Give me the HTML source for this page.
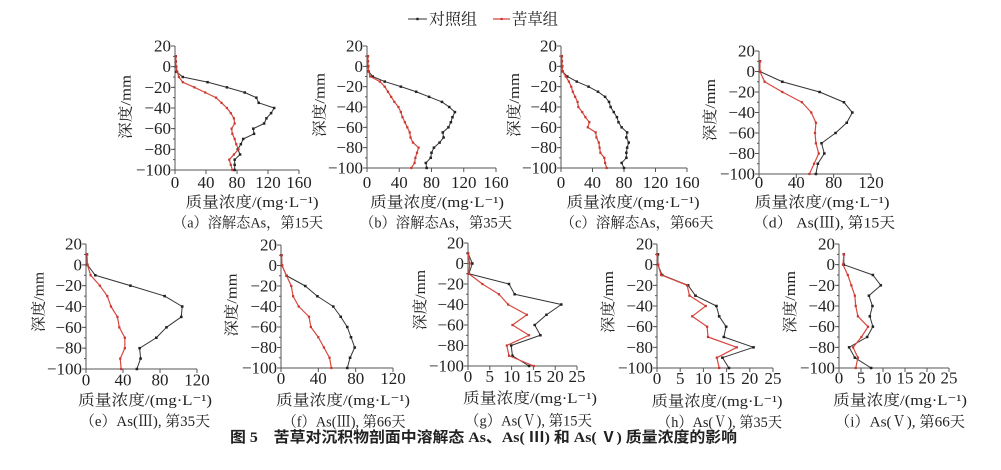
<!DOCTYPE html>
<html>
<head>
<meta charset="utf-8">
<style>
html,body{margin:0;padding:0;background:#fff;}
svg{display:block;}
svg text{font-family:"Liberation Serif","Noto Serif CJK SC",serif;fill:#222;}
.n{font-size:17px;}
.yl text{text-anchor:end;}
.xl text{text-anchor:middle;}
.lab{font-size:15px;text-anchor:middle;}
.ax{fill:none;stroke:#555;stroke-width:1;}
.tk{stroke:#555;}
.k{fill:none;stroke:#333;stroke-width:1;vector-effect:non-scaling-stroke;stroke-linejoin:round;}
.r{fill:none;stroke:#d8473e;stroke-width:1.2;vector-effect:non-scaling-stroke;stroke-linejoin:round;}
.kA{marker-start:url(#kA);marker-mid:url(#kA);marker-end:url(#kA);}
.rA{marker-start:url(#rA);marker-mid:url(#rA);marker-end:url(#rA);}
.kB{marker-start:url(#kB);marker-mid:url(#kB);marker-end:url(#kB);}
.rB{marker-start:url(#rB);marker-mid:url(#rB);marker-end:url(#rB);}
.kC{marker-start:url(#kC);marker-mid:url(#kC);marker-end:url(#kC);}
.rC{marker-start:url(#rC);marker-mid:url(#rC);marker-end:url(#rC);}
.cap{font-family:"Liberation Serif","Noto Sans CJK SC",sans-serif !important;font-weight:bold;font-size:15px;}
</style>
</head>
<body>
<svg width="1001" height="470" viewBox="0 0 1001 470" xmlns="http://www.w3.org/2000/svg">
<defs>
<marker id="kA" markerUnits="userSpaceOnUse" markerWidth="10" markerHeight="10" refX="0" refY="0" overflow="visible"><rect x="-1.6" y="-1.2" width="3.2" height="2.4" fill="#222"/></marker>
<marker id="rA" markerUnits="userSpaceOnUse" markerWidth="10" markerHeight="10" refX="0" refY="0" overflow="visible"><rect x="-1.4" y="-1.1" width="2.8" height="2.2" fill="#c8382f"/></marker>
<marker id="kB" markerUnits="userSpaceOnUse" markerWidth="10" markerHeight="10" refX="0" refY="0" overflow="visible"><rect x="-1.4" y="-1.2" width="2.8" height="2.4" fill="#222"/></marker>
<marker id="rB" markerUnits="userSpaceOnUse" markerWidth="10" markerHeight="10" refX="0" refY="0" overflow="visible"><rect x="-1.2" y="-1.1" width="2.4" height="2.2" fill="#c8382f"/></marker>
<marker id="kC" markerUnits="userSpaceOnUse" markerWidth="10" markerHeight="10" refX="0" refY="0" overflow="visible"><rect x="-0.29" y="-1.2" width="0.58" height="2.4" fill="#222"/></marker>
<marker id="rC" markerUnits="userSpaceOnUse" markerWidth="10" markerHeight="10" refX="0" refY="0" overflow="visible"><rect x="-0.25" y="-1.1" width="0.5" height="2.2" fill="#c8382f"/></marker>
</defs>

<!-- Legend -->
<line x1="408" y1="19" x2="427" y2="19" stroke="#333" stroke-width="1"/>
<rect x="416.3" y="17.8" width="2.4" height="2.4" fill="#222"/>
<text x="429" y="24.5" font-size="16" textLength="48" lengthAdjust="spacingAndGlyphs">对照组</text>
<line x1="493" y1="19" x2="510" y2="19" stroke="#d8473e" stroke-width="1.2"/>
<rect x="500.5" y="17.9" width="2.2" height="2.2" fill="#c8382f"/>
<text x="512" y="24.5" font-size="16" textLength="46" lengthAdjust="spacingAndGlyphs">苦草组</text>

<!-- (a) -->
<g transform="translate(175,46)">
<path class="ax" d="M0 0V124H124"/>
<line class="tk" x1="-2" y1="-0.5" x2="-2" y2="124.5" stroke-width="4" stroke-dasharray="1 19.667"/>
<line class="tk" x1="-1" y1="-0.5" x2="-1" y2="124.5" stroke-width="2" stroke-dasharray="1 9.333"/>
<line class="tk" x1="-0.5" y1="126" x2="124.5" y2="126" stroke-width="4" stroke-dasharray="1 30"/>
<g class="n yl"><text x="-4" y="5.5">20</text><text x="-4" y="26.2">0</text><text x="-4" y="46.8">−20</text><text x="-4" y="67.5">−40</text><text x="-4" y="88.2">−60</text><text x="-4" y="108.8">−80</text><text x="-4" y="129.5">−100</text></g>
<g class="n xl"><text x="0" y="142">0</text><text x="31" y="142">40</text><text x="62" y="142">80</text><text x="93" y="142">120</text><text x="124" y="142">160</text></g>
<text class="lab" transform="translate(-44.5,61) rotate(-90)" textLength="64" lengthAdjust="spacingAndGlyphs">深度/mm</text>
<text class="lab" x="77" y="161" textLength="133" lengthAdjust="spacingAndGlyphs">质量浓度/(mg·L⁻¹)</text>
<text class="lab" x="73" y="181.5" textLength="150" lengthAdjust="spacingAndGlyphs">（a）溶解态As，第15天</text>
<g transform="translate(0,20.67) scale(.775,-1.0333)">
<polyline class="k kA" points="1,10 1,5 1.5,0 2,-5 10,-10 42,-15 67,-20 90,-25 105,-30 108,-35 128,-40 124,-45 118,-50 115,-55 101,-60 102,-65 88,-70 85,-75 81,-80 84,-85 77,-90 77,-95 77,-100"/>
<polyline class="r rA" points="1,10 1,5 1.5,0 3,-5 5,-10 10,-15 25,-20 39,-25 53,-30 60,-35 67,-40 72,-45 76,-50 77,-55 73,-60 74,-65 77,-70 79,-75 82,-80 76,-85 70,-90 72,-95 74,-100"/>
</g>
</g>

<!-- (b) -->
<g transform="translate(367,46)">
<path class="ax" d="M0 0V122H129"/>
<line class="tk" x1="-2" y1="-0.5" x2="-2" y2="122.5" stroke-width="4" stroke-dasharray="1 19.333"/>
<line class="tk" x1="-1" y1="-0.5" x2="-1" y2="122.5" stroke-width="2" stroke-dasharray="1 9.167"/>
<line class="tk" x1="-0.5" y1="124" x2="129.5" y2="124" stroke-width="4" stroke-dasharray="1 31.25"/>
<g class="n yl"><text x="-4" y="5.5">20</text><text x="-4" y="25.8">0</text><text x="-4" y="46.2">−20</text><text x="-4" y="66.5">−40</text><text x="-4" y="86.8">−60</text><text x="-4" y="107.2">−80</text><text x="-4" y="127.5">−100</text></g>
<g class="n xl"><text x="0" y="142">0</text><text x="32.25" y="142">40</text><text x="64.5" y="142">80</text><text x="96.75" y="142">120</text><text x="129" y="142">160</text></g>
<text class="lab" transform="translate(-42.3,59) rotate(-90)" textLength="64" lengthAdjust="spacingAndGlyphs">深度/mm</text>
<text class="lab" x="70" y="161" textLength="134" lengthAdjust="spacingAndGlyphs">质量浓度/(mg·L⁻¹)</text>
<text class="lab" x="69" y="181.5" textLength="152" lengthAdjust="spacingAndGlyphs">（b）溶解态As，第35天</text>
<g transform="translate(0,20.33) scale(.80625,-1.01667)">
<polyline class="k kA" points="1,10 1,5 1.5,0 2,-5 7,-10 22,-15 42,-20 61,-25 77,-30 93,-35 102,-40 109,-45 106,-50 104,-55 101,-60 94,-65 95,-70 90,-75 83,-80 80,-85 79,-90 73,-95 74,-100"/>
<polyline class="r rA" points="1,10 1,5 1.5,0 2,-5 4,-10 16,-15 22,-20 26,-25 30,-30 34,-35 39,-40 42,-45 44,-50 47,-55 50,-60 53,-65 54,-70 57,-75 64,-80 62,-85 60,-90 59,-95 55,-100"/>
</g>
</g>

<!-- (c) -->
<g transform="translate(561,46)">
<path class="ax" d="M0 0V122H126"/>
<line class="tk" x1="-2" y1="-0.5" x2="-2" y2="122.5" stroke-width="4" stroke-dasharray="1 19.333"/>
<line class="tk" x1="-1" y1="-0.5" x2="-1" y2="122.5" stroke-width="2" stroke-dasharray="1 9.167"/>
<line class="tk" x1="-0.5" y1="124" x2="126.5" y2="124" stroke-width="4" stroke-dasharray="1 30.5"/>
<g class="n yl"><text x="-4" y="5.5">20</text><text x="-4" y="25.8">0</text><text x="-4" y="46.2">−20</text><text x="-4" y="66.5">−40</text><text x="-4" y="86.8">−60</text><text x="-4" y="107.2">−80</text><text x="-4" y="127.5">−100</text></g>
<g class="n xl"><text x="0" y="142">0</text><text x="31.5" y="142">40</text><text x="63" y="142">80</text><text x="94.5" y="142">120</text><text x="126" y="142">160</text></g>
<text class="lab" transform="translate(-42,59) rotate(-90)" textLength="64" lengthAdjust="spacingAndGlyphs">深度/mm</text>
<text class="lab" x="72" y="161" textLength="133" lengthAdjust="spacingAndGlyphs">质量浓度/(mg·L⁻¹)</text>
<text class="lab" x="76" y="181.5" textLength="153" lengthAdjust="spacingAndGlyphs">（c）溶解态As，第66天</text>
<g transform="translate(0,20.33) scale(.7875,-1.01667)">
<polyline class="k kA" points="1,10 1,5 1.5,0 2,-5 8,-10 20,-15 35,-20 47,-25 56,-30 61,-35 63,-40 67,-45 71,-50 73,-55 77,-60 84,-65 83,-70 86,-75 84,-80 83,-85 83,-90 77,-95 80,-100"/>
<polyline class="r rA" points="1,10 1,5 1.5,0 2,-5 6,-10 10,-15 13,-20 15,-25 18,-30 21,-35 22,-40 27,-45 31,-50 36,-55 34,-60 44,-65 45,-70 48,-75 49,-80 50,-85 55,-90 56,-95 58,-100"/>
</g>
</g>

<!-- (d) -->
<g transform="translate(759,51)">
<path class="ax" d="M0 0V123H112"/>
<line class="tk" x1="-2" y1="-0.5" x2="-2" y2="123.5" stroke-width="4" stroke-dasharray="1 19.5"/>
<line class="tk" x1="-1" y1="-0.5" x2="-1" y2="123.5" stroke-width="2" stroke-dasharray="1 9.25"/>
<line class="tk" x1="-0.5" y1="125" x2="112.5" y2="125" stroke-width="4" stroke-dasharray="1 36.333"/>
<g class="n yl"><text x="-4" y="5.5">20</text><text x="-4" y="26">0</text><text x="-4" y="46.5">−20</text><text x="-4" y="67">−40</text><text x="-4" y="87.5">−60</text><text x="-4" y="108">−80</text><text x="-4" y="128.5">−100</text></g>
<g class="n xl"><text x="0" y="137">0</text><text x="37.3" y="137">40</text><text x="74.7" y="137">80</text><text x="112" y="137">120</text></g>
<text class="lab" transform="translate(-44,59) rotate(-90)" textLength="62" lengthAdjust="spacingAndGlyphs">深度/mm</text>
<text class="lab" x="63" y="156" textLength="135" lengthAdjust="spacingAndGlyphs">质量浓度/(mg·L⁻¹)</text>
<text class="lab" x="65" y="176.5" textLength="142" lengthAdjust="spacingAndGlyphs">（d） As(Ⅲ), 第15天</text>
<g transform="translate(0,20.5) scale(.9333,-1.025)">
<polyline class="k kB" points="1,10 1,0 25,-10 65,-20 91,-30 100,-40 94,-50 82,-60 67,-70 70,-80 63,-90 61,-100"/>
<polyline class="r rB" points="1,10 1,0 6,-10 25,-20 46,-30 56,-40 61,-50 60,-60 61,-70 64,-80 59,-90 54,-100"/>
</g>
</g>

<!-- (e) -->
<g transform="translate(86,244)">
<path class="ax" d="M0 0V125H111"/>
<line class="tk" x1="-2" y1="-0.5" x2="-2" y2="125.5" stroke-width="4" stroke-dasharray="1 19.833"/>
<line class="tk" x1="-1" y1="-0.5" x2="-1" y2="125.5" stroke-width="2" stroke-dasharray="1 9.417"/>
<line class="tk" x1="-0.5" y1="127" x2="111.5" y2="127" stroke-width="4" stroke-dasharray="1 36"/>
<g class="n yl"><text x="-4" y="5.5">20</text><text x="-4" y="26.3">0</text><text x="-4" y="47.2">−20</text><text x="-4" y="68">−40</text><text x="-4" y="88.8">−60</text><text x="-4" y="109.7">−80</text><text x="-4" y="130.5">−100</text></g>
<g class="n xl"><text x="0" y="141.5">0</text><text x="37" y="141.5">40</text><text x="74" y="141.5">80</text><text x="111" y="141.5">120</text></g>
<text class="lab" transform="translate(-42.7,58) rotate(-90)" textLength="60" lengthAdjust="spacingAndGlyphs">深度/mm</text>
<text class="lab" x="59" y="161" textLength="134" lengthAdjust="spacingAndGlyphs">质量浓度/(mg·L⁻¹)</text>
<text class="lab" x="59" y="182" textLength="130" lengthAdjust="spacingAndGlyphs">（e）As(Ⅲ), 第35天</text>
<g transform="translate(0,20.83) scale(.925,-1.04167)">
<polyline class="k kB" points="1,10 1.5,0 10,-10 48,-20 85,-30 104,-40 103,-50 87,-60 76,-70 58,-80 59,-90 55,-100"/>
<polyline class="r rB" points="1,10 1.5,0 5,-10 15,-20 23,-30 27,-40 34,-50 36,-60 42,-70 42,-80 37,-90 38,-100"/>
</g>
</g>

<!-- (f) -->
<g transform="translate(281,245)">
<path class="ax" d="M0 0V123H112"/>
<line class="tk" x1="-2" y1="-0.5" x2="-2" y2="123.5" stroke-width="4" stroke-dasharray="1 19.5"/>
<line class="tk" x1="-1" y1="-0.5" x2="-1" y2="123.5" stroke-width="2" stroke-dasharray="1 9.25"/>
<line class="tk" x1="-0.5" y1="125" x2="112.5" y2="125" stroke-width="4" stroke-dasharray="1 36.333"/>
<g class="n yl"><text x="-4" y="5.5">20</text><text x="-4" y="26">0</text><text x="-4" y="46.5">−20</text><text x="-4" y="67">−40</text><text x="-4" y="87.5">−60</text><text x="-4" y="108">−80</text><text x="-4" y="128.5">−100</text></g>
<g class="n xl"><text x="0" y="139">0</text><text x="37.3" y="139">40</text><text x="74.7" y="139">80</text><text x="112" y="139">120</text></g>
<text class="lab" transform="translate(-44.5,60) rotate(-90)" textLength="63" lengthAdjust="spacingAndGlyphs">深度/mm</text>
<text class="lab" x="62" y="160" textLength="134" lengthAdjust="spacingAndGlyphs">质量浓度/(mg·L⁻¹)</text>
<text class="lab" x="63" y="181.5" textLength="123" lengthAdjust="spacingAndGlyphs">（f）As(Ⅲ), 第66天</text>
<g transform="translate(0,20.5) scale(.9333,-1.025)">
<polyline class="k kB" points="0.5,10 1,0 6,-10 26,-20 39,-30 56,-40 64,-50 71,-60 75,-70 79,-80 74,-90 71,-100"/>
<polyline class="r rB" points="0.5,10 1,0 6,-10 11,-20 13,-30 19,-40 30,-50 32,-60 40,-70 46,-80 52,-90 54,-100"/>
</g>
</g>

<!-- (g) -->
<g transform="translate(468,243)">
<path class="ax" d="M0 0V123H109"/>
<line class="tk" x1="-2" y1="-0.5" x2="-2" y2="123.5" stroke-width="4" stroke-dasharray="1 19.5"/>
<line class="tk" x1="-1" y1="-0.5" x2="-1" y2="123.5" stroke-width="2" stroke-dasharray="1 9.25"/>
<line class="tk" x1="-0.5" y1="125" x2="109.5" y2="125" stroke-width="4" stroke-dasharray="1 20.8"/>
<g class="n yl"><text x="-4" y="5.5">20</text><text x="-4" y="26">0</text><text x="-4" y="46.5">−20</text><text x="-4" y="67">−40</text><text x="-4" y="87.5">−60</text><text x="-4" y="108">−80</text><text x="-4" y="128.5">−100</text></g>
<g class="n xl"><text x="0" y="139">0</text><text x="21.8" y="139">5</text><text x="43.6" y="139">10</text><text x="65.4" y="139">15</text><text x="87.2" y="139">20</text><text x="109" y="139">25</text></g>
<text class="lab" transform="translate(-43,57) rotate(-90)" textLength="60" lengthAdjust="spacingAndGlyphs">深度/mm</text>
<text class="lab" x="62" y="160" textLength="134" lengthAdjust="spacingAndGlyphs">质量浓度/(mg·L⁻¹)</text>
<text class="lab" x="60.5" y="182.7" textLength="127" lengthAdjust="spacingAndGlyphs">（g）As(Ⅴ), 第15天</text>
<g transform="translate(0,20.5) scale(4.36,-1.025)">
<polyline class="k kC" points="0,10 1,0 0.2,-10 9.4,-20 10.7,-30 21.4,-40 18,-50 15.3,-60 16.6,-70 9.9,-80 10.2,-90 14,-100"/>
<polyline class="r rC" points="0,10 0.4,0 0.2,-10 3.3,-20 7.1,-30 9.2,-40 13.5,-50 10.2,-60 14,-70 8.9,-80 9.4,-90 15.1,-100"/>
</g>
</g>

<!-- (h) -->
<g transform="translate(657,244)">
<path class="ax" d="M0 0V124H116"/>
<line class="tk" x1="-2" y1="-0.5" x2="-2" y2="124.5" stroke-width="4" stroke-dasharray="1 19.667"/>
<line class="tk" x1="-1" y1="-0.5" x2="-1" y2="124.5" stroke-width="2" stroke-dasharray="1 9.333"/>
<line class="tk" x1="-0.5" y1="126" x2="116.5" y2="126" stroke-width="4" stroke-dasharray="1 22.2"/>
<g class="n yl"><text x="-4" y="5.5">20</text><text x="-4" y="26.2">0</text><text x="-4" y="46.8">−20</text><text x="-4" y="67.5">−40</text><text x="-4" y="88.2">−60</text><text x="-4" y="108.8">−80</text><text x="-4" y="129.5">−100</text></g>
<g class="n xl"><text x="0" y="140">0</text><text x="23.2" y="140">5</text><text x="46.4" y="140">10</text><text x="69.6" y="140">15</text><text x="92.8" y="140">20</text><text x="116" y="140">25</text></g>
<text class="lab" transform="translate(-44,58) rotate(-90)" textLength="62" lengthAdjust="spacingAndGlyphs">深度/mm</text>
<text class="lab" x="60" y="162" textLength="131" lengthAdjust="spacingAndGlyphs">质量浓度/(mg·L⁻¹)</text>
<text class="lab" x="62.5" y="183" textLength="125" lengthAdjust="spacingAndGlyphs">（h）As(Ⅴ), 第35天</text>
<g transform="translate(0,20.67) scale(4.64,-1.0333)">
<polyline class="k kC" points="0.2,10 0.2,0 1.1,-10 6.7,-20 8.3,-30 12.8,-40 13.4,-50 14.9,-60 14.4,-70 20.8,-80 14.1,-90 15.5,-100"/>
<polyline class="r rC" points="0,10 0.2,0 0.9,-10 6.5,-20 7,-30 10.5,-40 7.6,-50 10.8,-60 11,-70 17.2,-80 12.9,-90 13.4,-100"/>
</g>
</g>

<!-- (i) -->
<g transform="translate(839,244)">
<path class="ax" d="M0 0V124H110"/>
<line class="tk" x1="-2" y1="-0.5" x2="-2" y2="124.5" stroke-width="4" stroke-dasharray="1 19.667"/>
<line class="tk" x1="-1" y1="-0.5" x2="-1" y2="124.5" stroke-width="2" stroke-dasharray="1 9.333"/>
<line class="tk" x1="-0.5" y1="126" x2="110.5" y2="126" stroke-width="4" stroke-dasharray="1 21"/>
<g class="n yl"><text x="-4" y="5.5">20</text><text x="-4" y="26.2">0</text><text x="-4" y="46.8">−20</text><text x="-4" y="67.5">−40</text><text x="-4" y="88.2">−60</text><text x="-4" y="108.8">−80</text><text x="-4" y="129.5">−100</text></g>
<g class="n xl"><text x="0" y="139.5">0</text><text x="22" y="139.5">5</text><text x="44" y="139.5">10</text><text x="66" y="139.5">15</text><text x="88" y="139.5">20</text><text x="110" y="139.5">25</text></g>
<text class="lab" transform="translate(-44,58) rotate(-90)" textLength="62" lengthAdjust="spacingAndGlyphs">深度/mm</text>
<text class="lab" x="61" y="161" textLength="134" lengthAdjust="spacingAndGlyphs">质量浓度/(mg·L⁻¹)</text>
<text class="lab" x="61" y="182.5" textLength="130" lengthAdjust="spacingAndGlyphs">（i）As(Ⅴ), 第66天</text>
<g transform="translate(0,20.67) scale(4.4,-1.0333)">
<polyline class="k kC" points="1.1,10 1.1,0 7.7,-10 9.5,-20 6.8,-30 7.6,-40 7,-50 7.7,-60 6.4,-70 2.3,-80 3.6,-90 7.3,-100"/>
<polyline class="r rC" points="1.1,10 0.9,0 2,-10 2.8,-20 3.6,-30 3.8,-40 4.3,-50 6.6,-60 5.1,-70 3.2,-80 4.3,-90 3.8,-100"/>
</g>
</g>

<!-- Figure caption -->
<text class="cap" x="230" y="442" textLength="507" lengthAdjust="spacingAndGlyphs">图 5　苦草对沉积物剖面中溶解态 As、As( Ⅲ) 和 As( Ⅴ) 质量浓度的影响</text>
</svg>
</body>
</html>
